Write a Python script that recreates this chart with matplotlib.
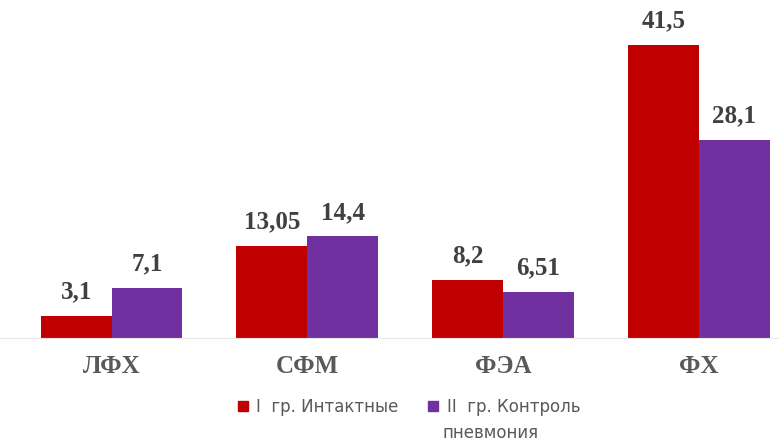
import numpy as np
import matplotlib.pyplot as plt
from matplotlib.lines import Line2D

categories = ['ЛФХ', 'СФМ', 'ФЭА', 'ФХ']
intact = [3.1, 13.05, 8.2, 41.5]
pneumonia = [7.1, 14.4, 6.51, 28.1]
intact_labels = ['3,1', '13,05', '8,2', '41,5']
pneumonia_labels = ['7,1', '14,4', '6,51', '28,1']
series_names = ['I  гр. Интактные', 'II  гр. Контроль']
name_tail = 'пневмония'

red = '#C00000'
purple = '#7030A0'

fig = plt.figure(figsize=(7.79, 4.41), dpi=100)
ax = fig.add_axes([0, 0.2336, 1, 0.72])

x = np.arange(len(categories))
w = 0.362
b1 = ax.bar(x - w / 2, intact, w, color=red)
b2 = ax.bar(x + w / 2, pneumonia, w, color=purple)

serif = dict(family='Liberation Serif', weight='bold', size=18)
ax.bar_label(b1, labels=intact_labels, padding=9, color='#404040', **serif)
ax.bar_label(b2, labels=pneumonia_labels, padding=9, color='#404040', **serif)

ax.set_xlim(-0.57, 3.41)
ax.set_ylim(0, 45)
ax.set_xticks(x)
ax.set_xticklabels(categories, color='#595959', **serif)
ax.tick_params(axis='x', length=0, pad=12)
ax.set_yticks([])
for s in ['top', 'right', 'left']:
    ax.spines[s].set_visible(False)
ax.spines['bottom'].set_color('#e8e8e8')

# legend: first lines in a legend, the wrapped word under the second entry
handles = [Line2D([], [], marker='s', linestyle='none', color=c, markersize=6.5)
           for c in (red, purple)]
leg = fig.legend(handles, series_names, loc='center left', ncol=2,
                 bbox_to_anchor=(236 / 779, 0.077), frameon=False,
                 borderpad=0, borderaxespad=0, handlelength=0.8,
                 handletextpad=0.4, columnspacing=1.7,
                 prop=dict(family='DejaVu Sans', size=12))
for t in leg.get_texts():
    t.set_color('#595959')
fig.text(442 / 779, 0.018, name_tail, color='#595959', ha='left', va='center',
         family='DejaVu Sans', size=12)

fig.savefig('out.png', dpi=100)
